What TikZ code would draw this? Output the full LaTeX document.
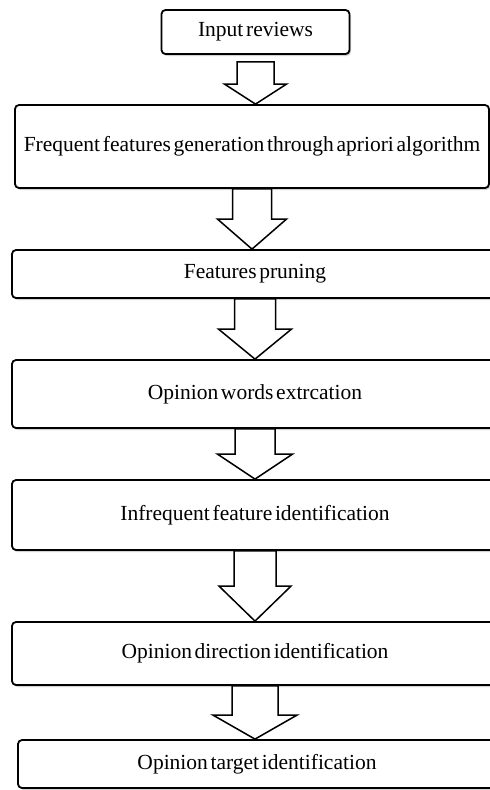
\documentclass[tikz,border=0pt]{standalone}
\usepackage{fontspec}
\setmainfont{Liberation Serif}[WordSpace=0.5]
\usetikzlibrary{calc,shadows}
\tikzset{
  stepbox/.style={draw=black, line width=1.8pt, rounded corners=4pt, fill=white,
    inner sep=0pt, font=\fontsize{21.5}{24}\selectfont, text=black,
    drop shadow={opacity=0.35, shadow xshift=1.5pt, shadow yshift=-2pt}},
  blk/.style={draw=black, line width=1.5pt, fill=white, line join=miter}
}
% from, to, gap, shaft half width, head half width, head length
\newcommand{\blockarrow}[6]{%
  \draw[blk] let \p1=(#1.south), \p2=(#2.north) in
    (\x1-#4pt,\y1-#3pt) -- (\x1-#4pt,\y2+#6pt) -- (\x1-#5pt,\y2+#6pt) --
    (\x1,\y2) -- (\x1+#5pt,\y2+#6pt) -- (\x1+#4pt,\y2+#6pt) --
    (\x1+#4pt,\y1-#3pt) -- cycle;}
\begin{document}
\begin{tikzpicture}[x=1pt,y=-1pt]
\clip (0,0) rectangle (490,790);
\fill[white] (0,0) rectangle (490,790);
\node[stepbox, minimum width=188pt, minimum height=44pt] (b1) at (255.5,32) {Input reviews};
\node[stepbox, minimum width=474pt, minimum height=83pt] (b2) at (252,146.5) {Frequent features generation through apriori algorithm};
\node[stepbox, minimum width=486pt, minimum height=48pt] (b3) at (255,274) {Features pruning};
\node[stepbox, minimum width=486pt, minimum height=68pt] (b4) at (255,394) {Opinion words extrcation};
\node[stepbox, minimum width=486pt, minimum height=70pt] (b5) at (255,515) {Infrequent feature identification};
\node[stepbox, minimum width=486pt, minimum height=63pt] (b6) at (255,653.5) {Opinion direction identification};
\node[stepbox, minimum width=478pt, minimum height=48pt] (b7) at (257,764) {Opinion target identification};
\blockarrow{b1}{b2}{7}{18.5}{31}{20}
\blockarrow{b2}{b3}{0}{19.5}{34.5}{30}
\blockarrow{b3}{b4}{0}{20.5}{36.5}{30}
\blockarrow{b4}{b5}{0}{20}{37.5}{25}
\blockarrow{b5}{b6}{0}{21}{36}{35}
\blockarrow{b6}{b7}{0}{23}{42}{24}
\end{tikzpicture}
\end{document}
